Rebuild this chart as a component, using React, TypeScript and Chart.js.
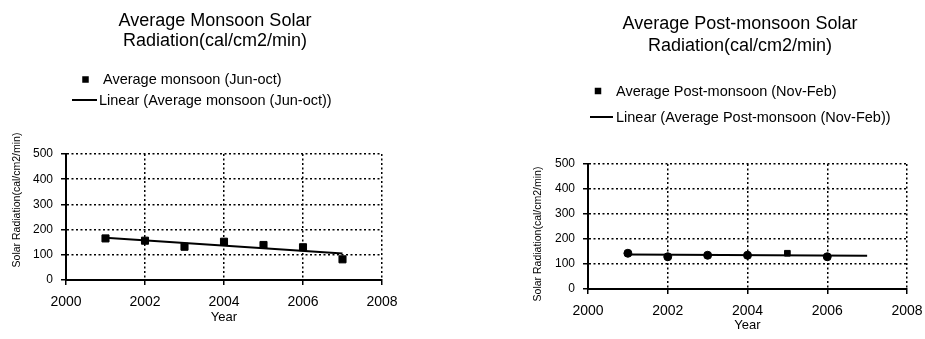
import React, { useEffect, useRef } from "react";
import { Chart, registerables } from "chart.js";

Chart.register(...registerables);

// ---------------- DATA ----------------
const MONSOON_YEARS = [2001, 2002, 2003, 2004, 2005, 2006, 2007];
const MONSOON_VALUES = [165, 156, 132, 152, 139, 130, 82];

const POST_YEARS = [2001, 2002, 2003, 2004, 2005, 2006];
const POST_VALUES = [143, 129, 135, 135, 143, 129];
const POST_TREND_END = 2007;

const X_MIN = 2000;
const X_MAX = 2008;
const X_STEP = 2;
const Y_MIN = 0;
const Y_MAX = 500;
const Y_STEP = 100;

const MONSOON_TITLE = ["Average Monsoon Solar", "Radiation(cal/cm2/min)"];
const MONSOON_LEGEND = ["Average monsoon (Jun-oct)", "Linear (Average monsoon (Jun-oct))"];
const POST_TITLE = ["Average Post-monsoon Solar", "Radiation(cal/cm2/min)"];
const POST_LEGEND = ["Average Post-monsoon (Nov-Feb)", "Linear (Average Post-monsoon (Nov-Feb))"];
const Y_TITLE = "Solar Radiation(cal/cm2/min)";
const X_TITLE = "Year";

// ---------------- HELPERS ----------------
const FONT = '"Liberation Sans", Arial, Helvetica, sans-serif';

function linearFit(xs: number[], ys: number[]) {
  const n = xs.length;
  const mx = xs.reduce((a, b) => a + b, 0) / n;
  const my = ys.reduce((a, b) => a + b, 0) / n;
  let num = 0;
  let den = 0;
  for (let i = 0; i < n; i++) {
    num += (xs[i] - mx) * (ys[i] - my);
    den += (xs[i] - mx) * (xs[i] - mx);
  }
  const slope = num / den;
  return (x: number) => my + slope * (x - mx);
}

type Layout = {
  left: number;
  width: number;
  chartLeft: number;
  chartRight: number;
  chartTop: number;
  chartBottom: number;
  titleX: number;
  titleBaselines: number[];
  legendSquare: [number, number];
  legendText1: [number, number];
  legendLine: [number, number, number];
  legendText2: [number, number];
  yTitle: [number, number];
  xTitlePad: number;
};

const decorPlugin = {
  id: "decor",
  afterDraw(chart: any, _args: any, opts: any) {
    const ctx = chart.ctx as CanvasRenderingContext2D;
    const L: Layout = opts.layout;
    ctx.save();
    ctx.fillStyle = "#000";
    ctx.strokeStyle = "#000";
    // title
    ctx.font = `18px ${FONT}`;
    ctx.textAlign = "center";
    ctx.textBaseline = "alphabetic";
    opts.title.forEach((t: string, i: number) => {
      ctx.fillText(t, L.titleX, L.titleBaselines[i]);
    });
    // legend
    ctx.font = `14.5px ${FONT}`;
    ctx.textAlign = "left";
    const s = 6.5;
    ctx.fillRect(L.legendSquare[0] - s / 2, L.legendSquare[1] - s / 2, s, s);
    ctx.fillText(opts.legend[0], L.legendText1[0], L.legendText1[1]);
    ctx.lineWidth = 2;
    ctx.beginPath();
    ctx.moveTo(L.legendLine[0], L.legendLine[2]);
    ctx.lineTo(L.legendLine[1], L.legendLine[2]);
    ctx.stroke();
    ctx.fillText(opts.legend[1], L.legendText2[0], L.legendText2[1]);
    // y title
    ctx.font = `10.5px ${FONT}`;
    ctx.textAlign = "center";
    ctx.textBaseline = "middle";
    ctx.translate(L.yTitle[0], L.yTitle[1]);
    ctx.rotate(-Math.PI / 2);
    ctx.fillText(Y_TITLE, 0, 0);
    ctx.restore();
  },
};

function Panel(props: {
  layout: Layout;
  years: number[];
  values: number[];
  trendEnd: number;
  title: string[];
  legend: string[];
  pointStyles: any;
  pointRadius: number;
}) {
  const ref = useRef<HTMLCanvasElement | null>(null);
  const { layout: L } = props;

  useEffect(() => {
    if (!ref.current) return;
    const fit = linearFit(props.years, props.values);
    const x0 = props.years[0];
    const x1 = props.trendEnd;
    const chart = new Chart(ref.current, {
      type: "scatter",
      data: {
        datasets: [
          {
            label: props.legend[0],
            data: props.years.map((x, i) => ({ x, y: props.values[i] })),
            showLine: false,
            pointStyle: props.pointStyles,
            pointRadius: props.pointRadius,
            pointBackgroundColor: "#000",
            pointBorderColor: "#000",
            pointBorderWidth: 1,
            order: 0,
          },
          {
            label: props.legend[1],
            data: [
              { x: x0, y: fit(x0) },
              { x: x1, y: fit(x1) },
            ],
            showLine: true,
            borderColor: "#000",
            borderWidth: 2,
            pointRadius: 0,
            order: 1,
          },
        ],
      },
      options: {
        animation: false,
        responsive: false,
        maintainAspectRatio: false,
        layout: {
          padding: {
            top: L.chartTop,
            right: L.width - L.chartRight,
            bottom: 0,
            left: 0,
          },
        },
        plugins: {
          legend: { display: false },
          title: { display: false },
          tooltip: { enabled: false },
          decor: { layout: L, title: props.title, legend: props.legend },
        } as any,
        scales: {
          x: {
            type: "linear",
            min: X_MIN,
            max: X_MAX,
            afterFit: (scale: any) => {
              scale.height = 339 - L.chartBottom;
              scale.paddingLeft = 0;
              scale.paddingRight = 0;
            },
            ticks: {
              stepSize: X_STEP,
              color: "#000",
              font: { family: FONT, size: 14 },
              padding: 9,
              maxRotation: 0,
              callback: (v: any) => String(v),
            },
            grid: {
              color: "#000",
              lineWidth: 1.5,
              tickLength: 5,
              tickColor: "#000",
              tickWidth: 1.5,
            },
            border: { display: true, color: "#000", width: 2, dash: [2, 2.5] },
            title: {
              display: true,
              text: X_TITLE,
              color: "#000",
              font: { family: FONT, size: 13 },
              padding: { top: 0, bottom: L.xTitlePad },
            },
          },
          y: {
            type: "linear",
            min: Y_MIN,
            max: Y_MAX,
            afterFit: (scale: any) => {
              scale.width = L.chartLeft;
            },
            ticks: {
              stepSize: Y_STEP,
              color: "#000",
              font: { family: FONT, size: 12 },
              padding: 8,
            },
            grid: {
              color: "#000",
              lineWidth: 1.5,
              tickLength: 5,
              tickColor: "#000",
              tickWidth: 1.5,
            },
            border: { display: true, color: "#000", width: 2, dash: [2, 2.5] },
          },
        },
      },
      plugins: [decorPlugin],
    } as any);
    return () => chart.destroy();
  }, []);

  return (
    <canvas
      ref={ref}
      width={L.width}
      height={339}
      style={{ position: "absolute", left: L.left, top: 0, width: L.width, height: 339 }}
    />
  );
}

const LEFT_LAYOUT: Layout = {
  left: 0,
  width: 462,
  chartLeft: 66,
  chartRight: 382,
  chartTop: 154,
  chartBottom: 280,
  titleX: 215,
  titleBaselines: [26, 46],
  legendSquare: [85.5, 79.5],
  legendText1: [103, 84],
  legendLine: [72, 97, 100],
  legendText2: [99, 105],
  yTitle: [17, 200],
  xTitlePad: 14,
};

const RIGHT_OFF = 462;
const RIGHT_LAYOUT: Layout = {
  left: RIGHT_OFF,
  width: 463,
  chartLeft: 588 - RIGHT_OFF,
  chartRight: 907 - RIGHT_OFF,
  chartTop: 164,
  chartBottom: 289,
  titleX: 740 - RIGHT_OFF,
  titleBaselines: [29, 51],
  legendSquare: [598 - RIGHT_OFF, 91],
  legendText1: [616 - RIGHT_OFF, 96],
  legendLine: [590 - RIGHT_OFF, 613 - RIGHT_OFF, 117],
  legendText2: [616 - RIGHT_OFF, 122],
  yTitle: [538 - RIGHT_OFF, 234],
  xTitlePad: 6,
};

const POST_POINT_STYLES = ["circle", "circle", "circle", "circle", "rect", "circle"];

export default function App() {
  return (
    <div
      style={{
        position: "fixed",
        left: 0,
        top: 0,
        width: 925,
        height: 339,
        background: "#fff",
        overflow: "hidden",
      }}
    >
      <Panel
        layout={LEFT_LAYOUT}
        years={MONSOON_YEARS}
        values={MONSOON_VALUES}
        trendEnd={MONSOON_YEARS[MONSOON_YEARS.length - 1]}
        title={MONSOON_TITLE}
        legend={MONSOON_LEGEND}
        pointStyles="rect"
        pointRadius={5}
      />
      <Panel
        layout={RIGHT_LAYOUT}
        years={POST_YEARS}
        values={POST_VALUES}
        trendEnd={POST_TREND_END}
        title={POST_TITLE}
        legend={POST_LEGEND}
        pointStyles={POST_POINT_STYLES}
        pointRadius={4}
      />
    </div>
  );
}
